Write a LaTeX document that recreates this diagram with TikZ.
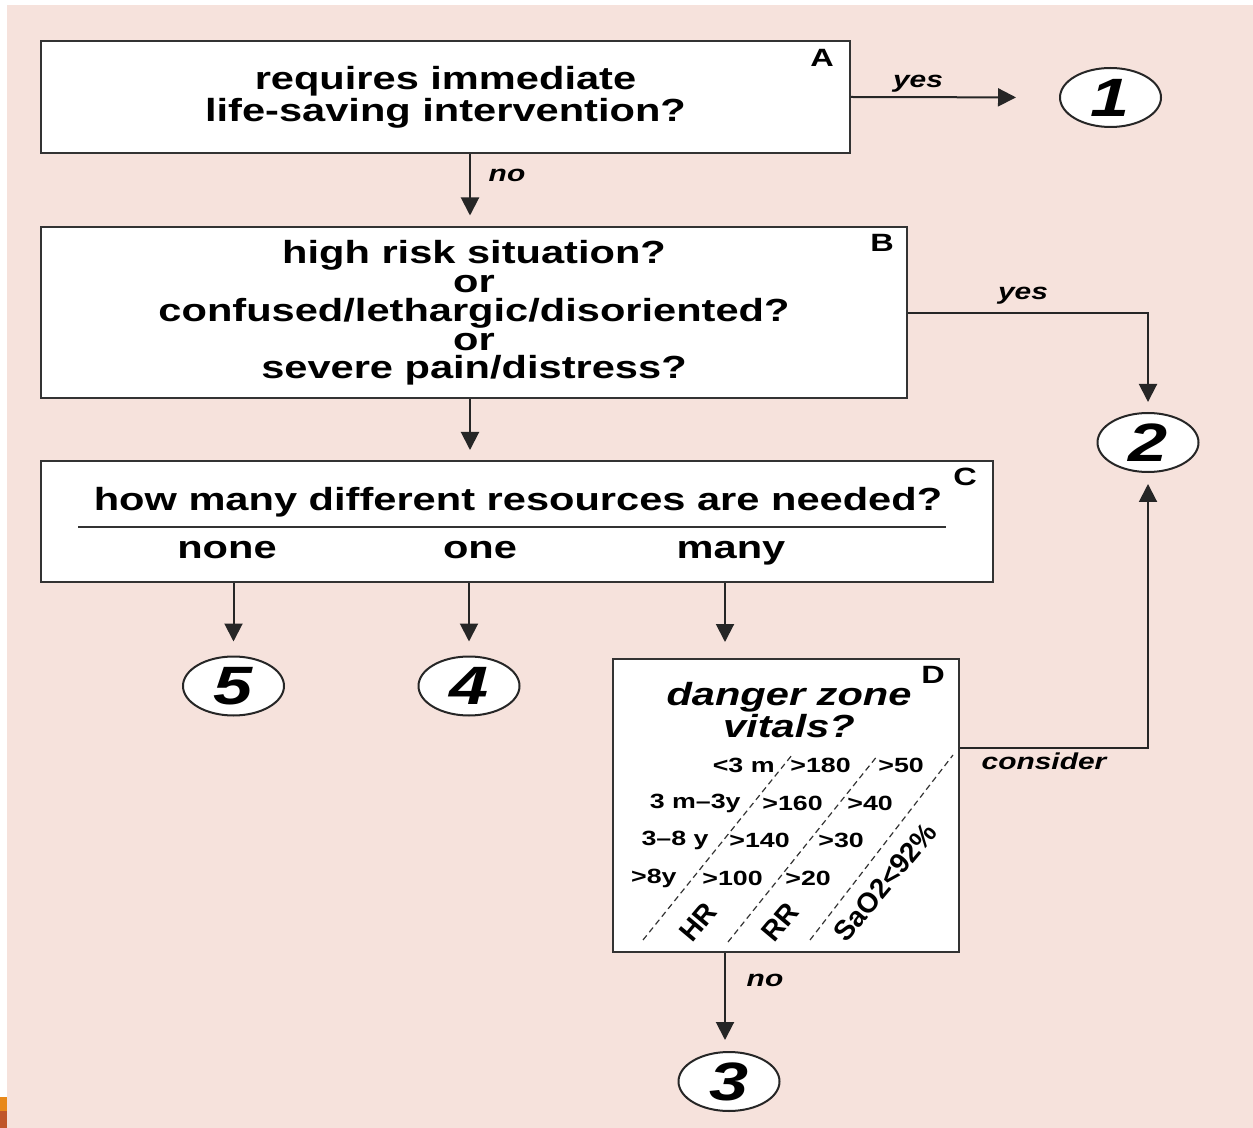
\documentclass[tikz,border=0pt]{standalone}
\usepackage{fontspec}
\setmainfont{Liberation Sans}[FakeStretch=1.3]
\newfontfamily\axisfont{Liberation Sans}
\usepackage{xcolor}
\usetikzlibrary{arrows.meta,calc,shapes.geometric}

\definecolor{bgpink}{RGB}{246,226,220}
\definecolor{edgeorange}{RGB}{232,137,26}
\definecolor{edgerust}{RGB}{192,86,42}
\newcommand{\qfont}{\fontsize{16}{14.4}\selectfont\bfseries}

\begin{document}
\begin{tikzpicture}[x=0.5pt, y=-0.5pt, line join=miter,
    box/.style={draw=black!80, line width=1pt, fill=white, inner sep=0pt},
    question/.style={align=center, font=\qfont},
    exitnum/.style={ellipse, draw=black!85, line width=1pt, fill=white,
      inner sep=0pt, minimum width=50.5pt, minimum height=29.5pt,
      font=\fontsize{27}{27}\selectfont\bfseries\itshape},
    flow/.style={-{Triangle[length=9pt,width=9pt]}, line width=1pt,
      draw=black!85},
    answer/.style={font=\fontsize{11.5}{12}\selectfont\bfseries\itshape},
    corner/.style={font=\fontsize{12.5}{13}\selectfont\bfseries},
    vital/.style={font=\fontsize{10.3}{11}\selectfont\bfseries, inner sep=0pt},
    vitalaxis/.style={font=\axisfont\fontsize{14}{14}\selectfont\bfseries,
      inner sep=0pt, rotate=50},
    zone/.style={densely dashed, line width=0.6pt, black!80}]

  %--- Page and background ------------------------------------------------
  \useasboundingbox (0,0) rectangle (1253,1128);
  \fill[white] (0,0) rectangle (1253,1128);
  \fill[bgpink] (7,5) rectangle (1253,1128);
  \fill[edgeorange] (0,1097) rectangle (7,1111);
  \fill[edgerust]   (0,1111) rectangle (7,1128);

  %--- Guide columns for the vertical arrows ------------------------------
  \coordinate (spine) at (470,0);
  \coordinate (dcol)  at (725,0);

  %--- Decision boxes -----------------------------------------------------
  \node[box, question, minimum width=404.5pt, minimum height=56pt]
       (A) at (445.5,97) {requires immediate\\life-saving intervention?};
  \node[box, question, minimum width=433pt, minimum height=85.5pt]
       (B) at (474,313) {high risk situation?\\or\\
       confused/lethargic/disoriented?\\or\\severe pain/distress?};
  \node[box, minimum width=476pt, minimum height=60.5pt]
       (C) at (517,521.5) {};
  \node[box, minimum width=173pt, minimum height=146.5pt]
       (D) at (786,805.5) {};

  %--- Box letters --------------------------------------------------------
  \node[corner] (Alab) at (822,58)  {A};
  \node[corner] (Blab) at (882,243) {B};
  \node[corner] (Clab) at (965,477) {C};
  \node[corner] (Dlab) at (933,675) {D};

  %--- Contents of box C --------------------------------------------------
  \node[font=\qfont, anchor=base] (Cq) at (518,510)
       {how many different resources are needed?};
  \draw[line width=1pt, black!80] (78,527) -- (946,527);
  \node[font=\qfont, anchor=base] (none)   at (227,558) {none};
  \node[font=\qfont, anchor=base] (oneres) at (480,558) {one};
  \node[font=\qfont, anchor=base] (many)   at (731,558) {many};

  %--- Contents of box D --------------------------------------------------
  \node[question, font=\qfont\itshape] (Dq) at (789,710)
       {danger zone\\vitals?};
  \draw[zone] (643,940) -- (792,755);
  \draw[zone] (728,942) -- (878,755);
  \draw[zone] (810,940) -- (953,755);
  \node[vital, anchor=east] (age1) at (775,765) {<3 m};
  \node[vital, anchor=east] (age2) at (741,803) {3 m–3y};
  \node[vital, anchor=east] (age3) at (709,840) {3–8 y};
  \node[vital, anchor=east] (age4) at (677,878) {>8y};
  \node[vital, anchor=west] (hr1) at (790,765) {>180};
  \node[vital, anchor=west] (hr2) at (762,803) {>160};
  \node[vital, anchor=west] (hr3) at (729,840) {>140};
  \node[vital, anchor=west] (hr4) at (702,878) {>100};
  \node[vital, anchor=west] (rr1) at (878,765) {>50};
  \node[vital, anchor=west] (rr2) at (847,803) {>40};
  \node[vital, anchor=west] (rr3) at (818,840) {>30};
  \node[vital, anchor=west] (rr4) at (785,878) {>20};
  \node[vitalaxis] (hr)  at (698,922) {HR};
  \node[vitalaxis] (rr)  at (780,922) {RR};
  \node[vitalaxis] (sao) at (885,882) {SaO2<92\%};

  %--- Exit levels --------------------------------------------------------
  \node[exitnum] (one)   at (1110.5,97.5) {1};
  \node[exitnum] (two)   at (1148,442.5)  {2};
  \node[exitnum] (three) at (729,1081.5)  {3};
  \node[exitnum] (four)  at (469,686)     {4};
  \node[exitnum] (five)  at (233.5,686)   {5};

  %--- Connectors ---------------------------------------------------------
  \draw[flow, shorten >=21.5pt] (A.east) -- (one.west);
  \draw[flow, shorten >=5.5pt] (A.south -| spine) -- (B.north -| spine);
  \draw[flow, shorten >=5pt] (B.east) -| (two.north);
  \draw[flow, shorten >=5pt] (B.south -| spine) -- (C.north -| spine);
  \draw[flow, shorten >=7pt] (C.south -| five) -- (five.north);
  \draw[flow, shorten >=7pt] (C.south -| four) -- (four.north);
  \draw[flow, shorten >=8pt] (C.south -| dcol) -- (D.north -| dcol);
  \draw[flow, shorten >=5.5pt] ([yshift=28.75pt]D.east) -| (two.south);
  \draw[flow, shorten >=5.5pt] (D.south -| dcol) -- (three.north -| dcol);

  %--- Connector labels ---------------------------------------------------
  \node[answer] (yesA) at (918,84)   {yes};
  \node[answer] (noA)  at (507,175)  {no};
  \node[answer] (yesB) at (1023,296) {yes};
  \node[answer] (cons) at (1044,761) {consider};
  \node[answer] (noD)  at (765,980)  {no};

\end{tikzpicture}
\end{document}
